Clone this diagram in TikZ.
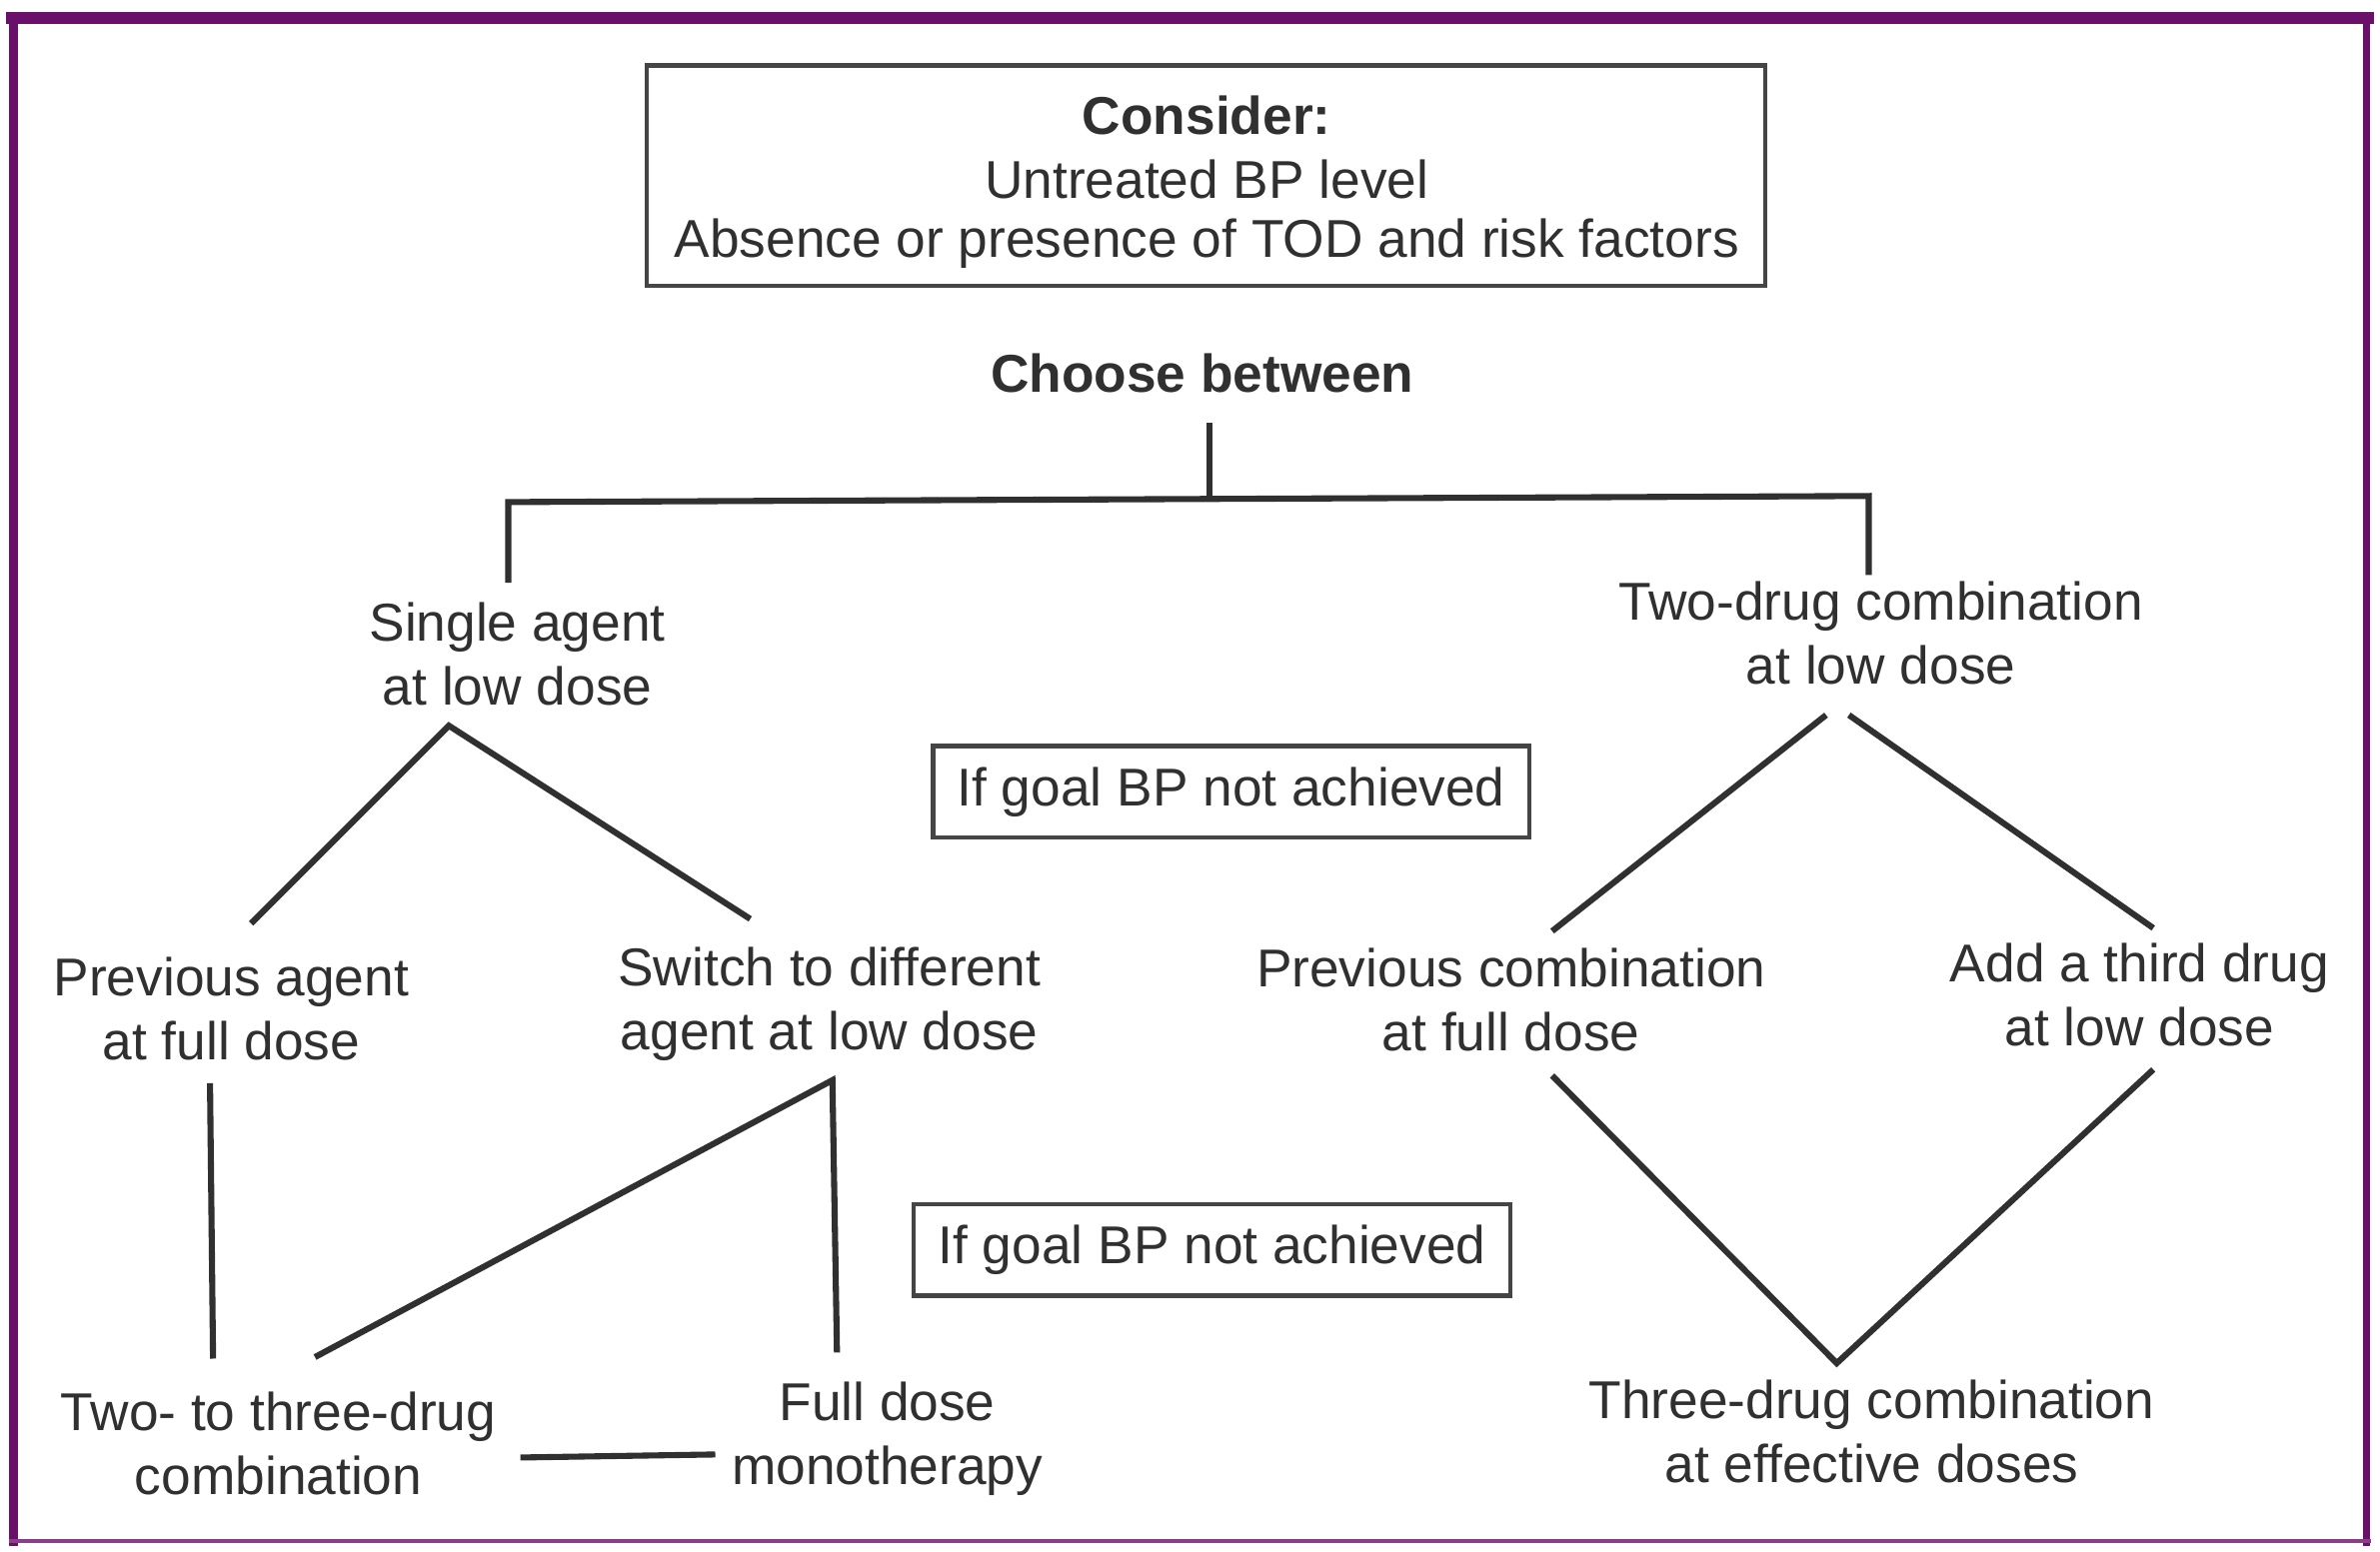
\documentclass[tikz,border=0pt]{standalone}
\usepackage{fontspec}
\setmainfont{Liberation Sans}
\definecolor{ink}{HTML}{303030}
\definecolor{frame}{HTML}{6A0F6A}
\begin{document}
\begin{tikzpicture}[x=1pt,y=-1pt,
  txt/.style={align=center,text=ink,font=\fontsize{35}{42}\selectfont,inner sep=0pt},
  btxt/.style={txt,font=\fontsize{35}{42}\selectfont\bfseries},
  goalbox/.style={draw=ink!90,line width=3pt,minimum width=392pt,minimum height=60pt,txt},
  conn/.style={draw=ink,line width=4pt}]
\useasboundingbox (0,0) rectangle (1564,1020);
\fill[white] (0,0) rectangle (1564,1020);
% frame
\draw[frame,line width=8pt] (4,12) -- (1560,12);
\draw[frame,line width=6pt] (9,8) -- (9,1016);
\draw[frame,line width=5pt] (1555,8) -- (1555,1016);
\draw[frame!80,line width=3pt] (6,1013) -- (1558,1013);
% top box
\node[draw=ink!90,line width=3pt,minimum width=735pt,minimum height=145pt] (consbox) at (792.5,115.5) {};
\node[btxt] (consider) at (793,76) {Consider:};
\node[txt] (untreated) at (793,118) {Untreated BP level};
\node[txt] (absence) at (793,160) {Absence or presence of TOD and risk factors};
\node[btxt] (choose) at (790,245) {Choose between};
% level 1
\node[txt] (single) at (340,430) {Single agent\\at low dose};
\node[txt] (twodrug) at (1236,416) {Two-drug combination\\at low dose};
% goal boxes
\node[goalbox] (goal1) at (809,520.5) {If goal BP not achieved};
\node[goalbox] (goal2) at (796.5,821.5) {If goal BP not achieved};
% level 2
\node[txt] (prevagent) at (152,663) {Previous agent\\at full dose};
\node[txt] (switch) at (545,660) {Switch to different\\agent at low dose};
\node[txt] (prevcomb) at (993,657) {Previous combination\\at full dose};
\node[txt] (third) at (1406,654) {Add a third drug\\at low dose};
% level 3
\node[txt] (twothree) at (183,949) {Two- to three-drug\\combination};
\node[txt] (fulldose) at (583,946) {Full dose\\monotherapy};
\node[txt] (threedrug) at (1230,941) {Three-drug combination\\at effective doses};
% connector points
\coordinate (chooseB) at (795,278);
\coordinate (hub) at (795,328);
\coordinate (hubL) at (334,330);
\coordinate (hubR) at (1228,326);
\coordinate (singleT) at (334,383);
\coordinate (twoT) at (1228,378);
\coordinate (singleB) at (295,477);
\coordinate (prevagentT) at (165,607);
\coordinate (switchT) at (493,604);
\coordinate (twoBL) at (1200,470);
\coordinate (twoBR) at (1215,470);
\coordinate (prevcombT) at (1020,612);
\coordinate (thirdT) at (1415,610);
\coordinate (prevagentB) at (138,712);
\coordinate (twothreeT) at (140,893);
\coordinate (switchB) at (547,710);
\coordinate (twothreeTR) at (207,892);
\coordinate (fulldoseT) at (550,889);
\coordinate (prevcombB) at (1020,707);
\coordinate (thirdB) at (1415,703);
\coordinate (threedrugT) at (1207,896);
\coordinate (twothreeR) at (342,958);
\coordinate (fulldoseL) at (470,956);
% connectors
\draw[conn] (chooseB) -- (hub);
\draw[conn] (singleT) -- (hubL) -- (hubR) -- (twoT);
\draw[conn] (prevagentT) -- (singleB) -- (switchT);
\draw[conn] (prevcombT) -- (twoBL);
\draw[conn] (twoBR) -- (thirdT);
\draw[conn] (prevagentB) -- (twothreeT);
\draw[conn] (twothreeTR) -- (switchB) -- (fulldoseT);
\draw[conn] (prevcombB) -- (threedrugT) -- (thirdB);
\draw[conn] (twothreeR) -- (fulldoseL);
\end{tikzpicture}
\end{document}
